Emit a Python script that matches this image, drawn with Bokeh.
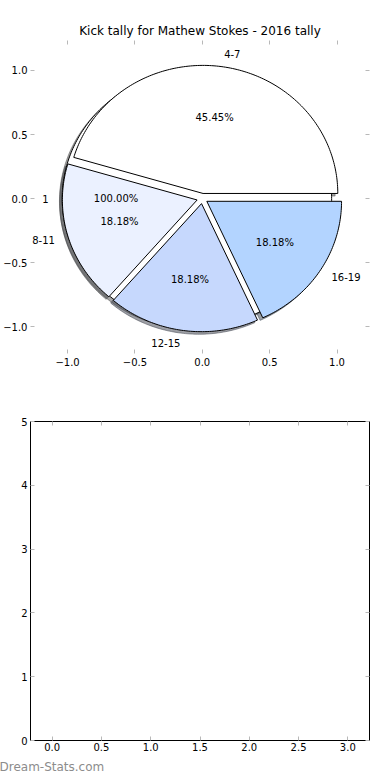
import numpy as np
from bokeh.plotting import figure
from bokeh.layouts import column
from bokeh.models import LinearAxis, FixedTicker, Title, Range1d, Label
from bokeh.embed import file_html
from bokeh.resources import INLINE

# ---------------- data ----------------
title_text = "Kick tally for Mathew Stokes - 2016 tally"
pie_labels = ["4-7", "8-11", "12-15", "16-19"]
pie_values = [5, 2, 2, 2]
pie_colors = ["#ffffff", "#ebf1ff", "#c6d8fd", "#b3d4ff"]
pie_explode = [0.04, 0.04, 0.04, 0.04]

full_labels = ["1"]
full_values = [1]
full_colors = ["#ffffff"]
full_explode = [0.04]

pie_ticks = [-1.0, -0.5, 0.0, 0.5, 1.0]
pie_tick_labels = ["\u22121.0", "\u22120.5", "0.0", "0.5", "1.0"]

bar_xticks = [0.0, 0.5, 1.0, 1.5, 2.0, 2.5, 3.0]
bar_xtick_labels = ["0.0", "0.5", "1.0", "1.5", "2.0", "2.5", "3.0"]
bar_yticks = [0, 1, 2, 3, 4, 5]
bar_ytick_labels = ["0", "1", "2", "3", "4", "5"]

watermark = "Dream-Stats.com"

FONT = "DejaVu Sans"
TICK_COLOR = "#b8b8b8"


def pie_geometry(values, explode, shadow=(-0.02, -0.02)):
    total = float(sum(values))
    out = dict(xs=[], ys=[], sxs=[], sys=[], lx=[], ly=[], la=[], px=[], py=[], pct=[])
    theta1 = 0.0
    for v, e in zip(values, explode):
        frac = v / total
        theta2 = theta1 + frac * 2 * np.pi
        tm = 0.5 * (theta1 + theta2)
        cx, cy = e * np.cos(tm), e * np.sin(tm)
        n = max(int(frac * 360), 4) + 1
        t = np.linspace(theta1, theta2, n)
        if frac >= 0.9999:
            x = list(cx + np.cos(t))
            y = list(cy + np.sin(t))
        else:
            x = [cx] + list(cx + np.cos(t))
            y = [cy] + list(cy + np.sin(t))
        out["xs"].append(x)
        out["ys"].append(y)
        out["sxs"].append([a + shadow[0] for a in x])
        out["sys"].append([b + shadow[1] for b in y])
        lxv = cx + 1.1 * np.cos(tm)
        out["lx"].append(float(lxv))
        out["ly"].append(float(cy + 1.1 * np.sin(tm)))
        out["la"].append("left" if lxv > 0 else "right")
        out["px"].append(float(cx + 0.6 * np.cos(tm)))
        out["py"].append(float(cy + 0.6 * np.sin(tm)))
        out["pct"].append("%.2f%%" % (frac * 100))
        theta1 = theta2
    return out


def shadow_color(hexc):
    r, g, b = int(hexc[1:3], 16), int(hexc[3:5], 16), int(hexc[5:7], 16)
    return "#%02x%02x%02x" % (int(r * 0.3), int(g * 0.3), int(b * 0.3))


def style_axis(ax, ticks, labels=None, standoff=5):
    ax.ticker = FixedTicker(ticks=ticks)
    ax.axis_line_color = None
    ax.major_tick_in = 4
    ax.major_tick_out = 0
    ax.major_tick_line_color = TICK_COLOR
    ax.major_tick_line_width = 1
    ax.minor_tick_line_color = None
    ax.major_label_text_font = FONT
    ax.major_label_text_font_size = "10px"
    if labels is not None:
        ax.major_label_overrides = dict(zip(ticks, labels))
        ax.major_label_text_color = "black"
        ax.major_label_standoff = standoff
    else:
        ax.major_label_overrides = {t: "" for t in ticks}
        ax.major_label_text_color = None
        ax.major_label_standoff = 0


def add_labels(p, xs, ys, texts, aligns):
    for x, y, t, al in zip(xs, ys, texts, aligns):
        p.add_layout(Label(x=x, y=y, text=t, text_align=al, text_baseline="middle",
                           text_font=FONT, text_font_size="10px", text_color="black"))


# ---------------- top: pie ----------------
p1 = figure(width=390, height=400, output_backend="svg", toolbar_location=None,
            x_range=Range1d(-1.275, 1.241), y_range=Range1d(-1.21, 1.234),
            min_border_top=40, min_border_right=21, min_border_bottom=47, min_border_left=0)
p1.title.text = title_text
p1.title.align = "center"
p1.title.text_font = FONT
p1.title.text_font_size = "12px"
p1.title.text_font_style = "normal"
p1.title.text_color = "black"
p1.title.standoff = 6
p1.outline_line_color = None
p1.grid.visible = False
p1.background_fill_color = "white"
p1.border_fill_color = "white"

style_axis(p1.xaxis[0], pie_ticks, pie_tick_labels, 4)
style_axis(p1.yaxis[0], pie_ticks, pie_tick_labels, 3)
top_ax = LinearAxis()
style_axis(top_ax, pie_ticks)
p1.add_layout(top_ax, "above")
right_ax = LinearAxis()
style_axis(right_ax, pie_ticks)
p1.add_layout(right_ax, "right")

full = pie_geometry(full_values, full_explode)
main = pie_geometry(pie_values, pie_explode)

# shadows (below all wedges)
p1.patches(full["sxs"], full["sys"], fill_color=[shadow_color(c) for c in full_colors],
           fill_alpha=0.5, line_color=[shadow_color(c) for c in full_colors], line_alpha=0.5)
p1.patches(main["sxs"], main["sys"], fill_color=[shadow_color(c) for c in pie_colors],
           fill_alpha=0.5, line_color=[shadow_color(c) for c in pie_colors], line_alpha=0.5)
# wedges
p1.patches(full["xs"], full["ys"], fill_color=full_colors, line_color="black", line_width=1)
p1.patches(main["xs"], main["ys"], fill_color=pie_colors, line_color="black", line_width=1)

for g, labs in ((full, full_labels), (main, pie_labels)):
    add_labels(p1, g["lx"], g["ly"], labs, g["la"])
    add_labels(p1, g["px"], g["py"], g["pct"], ["center"] * len(g["pct"]))

# ---------------- bottom: empty axes ----------------
p2 = figure(width=390, height=380, output_backend="svg", toolbar_location=None,
            x_range=Range1d(-0.22, 3.22), y_range=Range1d(0, 5),
            min_border_top=21, min_border_right=20, min_border_bottom=40, min_border_left=0)
p2.outline_line_color = "black"
p2.outline_line_width = 1
p2.grid.visible = False
p2.background_fill_color = "white"
p2.border_fill_color = "white"
style_axis(p2.xaxis[0], bar_xticks, bar_xtick_labels, 2)
style_axis(p2.yaxis[0], bar_yticks, bar_ytick_labels, 3)
top2 = LinearAxis()
style_axis(top2, bar_xticks)
p2.add_layout(top2, "above")
right2 = LinearAxis()
style_axis(right2, bar_yticks)
p2.add_layout(right2, "right")

wm = Title(text=watermark, align="left", text_font=FONT, text_font_size="12px",
           text_font_style="normal", text_color="#8c8c8c", offset=-31, standoff=9)
p2.add_layout(wm, "below")

layout = column(p1, p2, spacing=0)
open("out.html", "w").write(file_html(layout, INLINE))
